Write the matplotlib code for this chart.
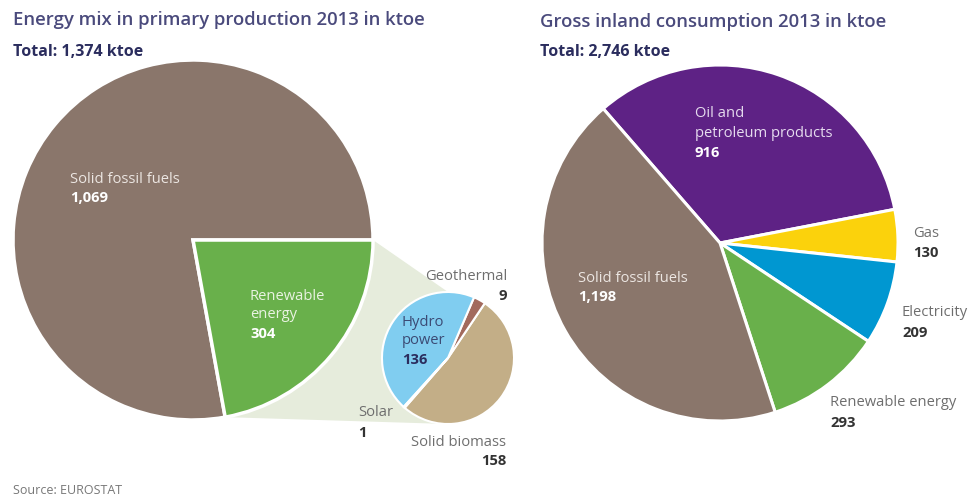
import matplotlib.pyplot as plt
from matplotlib.patches import Polygon
import numpy as np

# Primary production 2013 (ktoe)
prod_labels = ['Solid fossil fuels', 'Renewable energy']
prod_values = [1069, 304]
prod_total = 1374

# Breakdown of renewable energy production (ktoe)
ren_labels = ['Solid biomass', 'Geothermal', 'Hydro power', 'Solar']
ren_values = [158, 9, 136, 1]

# Gross inland consumption 2013 (ktoe)
cons_labels = ['Oil and petroleum products', 'Gas', 'Electricity',
               'Renewable energy', 'Solid fossil fuels']
cons_values = [916, 130, 209, 293, 1198]
cons_total = 2746

W, H = 970, 503
plt.rcParams['font.family'] = ['Open Sans', 'DejaVu Sans']

BROWN = '#8a766b'
GREEN = '#69b04b'
PURPLE = '#5e2285'
YELLOW = '#fbd20c'
BLUE = '#0097d1'
LIGHTBLUE = '#80cdf0'
TAN = '#c3ae87'
GEO = '#a26a5d'
SOLAR = '#f3a328'
PALEGREEN = '#e6ecdc'
TITLE = '#4a4a7c'
NAVY = '#2b2d5e'
GREY = '#6e6e6e'
DARK = '#333333'

fig = plt.figure(figsize=(W / 100, H / 100), dpi=100)
ax = fig.add_axes([0, 0, 1, 1])


def py(y):
    # pixel row (from top) -> data y
    return H - y


# --- left: primary production ---
big_c = (193, py(240))
big_r = 180
big_w, _ = ax.pie(prod_values, colors=[BROWN, GREEN], startangle=0,
                  counterclock=True, explode=[0, 0.045], radius=big_r,
                  center=big_c, frame=True,
                  wedgeprops=dict(edgecolor='white', linewidth=2.5))

small_c = (448, py(358))
small_r = 66
small_w, _ = ax.pie(ren_values, colors=[TAN, GEO, LIGHTBLUE, SOLAR],
                    startangle=-131, counterclock=True,
                    explode=[0.025, 0.06, 0.035, 0.05], radius=small_r,
                    center=small_c, frame=True,
                    wedgeprops=dict(edgecolor='white', linewidth=1.5))

# pale band linking the renewable slice to its breakdown
gw = big_w[1]
gc = np.array(gw.center)
a1, a2 = np.radians(gw.theta1), np.radians(gw.theta2)
top_pt = gc + gw.r * np.array([np.cos(a2), np.sin(a2)])
bot_pt = gc + gw.r * np.array([np.cos(a1), np.sin(a1)])
link = Polygon([gc, top_pt, (small_c[0], small_c[1] + small_r),
                (small_c[0], small_c[1] - small_r), bot_pt],
               closed=True, facecolor=PALEGREEN, edgecolor='none', zorder=0.5)
ax.add_patch(link)

# --- right: gross inland consumption ---
cons_c = (720, py(243))
cons_r = 178
ax.pie(cons_values, colors=[PURPLE, YELLOW, BLUE, GREEN, BROWN],
       startangle=131, counterclock=False, radius=cons_r, center=cons_c,
       explode=[0, 0.012, 0.012, 0.012, 0],
       frame=True, wedgeprops=dict(edgecolor='white', linewidth=2.2))

ax.set_xlim(0, W)
ax.set_ylim(0, H)
ax.set_aspect('auto')
ax.axis('off')

# titles
ax.text(13, py(20), 'Energy mix in primary production 2013 in ktoe',
        fontsize=13.3, fontweight='semibold', color=TITLE, va='center',
        ha='left')
ax.text(13, py(52), f'Total: {prod_total:,} ktoe', fontsize=11.5,
        fontweight='bold', color=NAVY, va='center', ha='left')
ax.text(540, py(22), 'Gross inland consumption 2013 in ktoe',
        fontsize=13.3, fontweight='semibold', color=TITLE, va='center',
        ha='left')
ax.text(540, py(52), f'Total: {cons_total:,} ktoe', fontsize=11.5,
        fontweight='bold', color=NAVY, va='center', ha='left')


def lab(x, y, name, value, color, vcolor, ha='left', gap=19, size=10.6):
    lines = name.split('\n')
    for i, ln in enumerate(lines):
        ax.text(x, py(y + i * gap), ln, fontsize=size, color=color,
                ha=ha, va='center')
    ax.text(x, py(y + len(lines) * gap), f'{value:,}', fontsize=size,
            fontweight='bold', color=vcolor, ha=ha, va='center')


INSIDE = '#ece6e2'
lab(70, 179, 'Solid fossil fuels', prod_values[0], INSIDE, 'white')
lab(250, 296, 'Renewable\nenergy', prod_values[1], '#e9f3e2', 'white')
lab(402, 322, 'Hydro\npower', ren_values[2], '#3b4a74', NAVY, gap=19)
lab(507, 277, 'Geothermal', ren_values[1], GREY, DARK, ha='right')
lab(358, 413, 'Solar', ren_values[3], GREY, DARK, ha='left', gap=20)
lab(506, 442, 'Solid biomass', ren_values[0], GREY, DARK, ha='right')

lab(695, 113, 'Oil and\npetroleum products', cons_values[0], '#e6dcef',
    'white', gap=20)
lab(913, 233, 'Gas', cons_values[1], GREY, DARK, gap=20)
lab(902, 313, 'Electricity', cons_values[2], GREY, DARK, gap=20)
lab(830, 403, 'Renewable energy', cons_values[3], GREY, DARK, gap=20)
lab(578, 278, 'Solid fossil fuels', cons_values[4], INSIDE, 'white')

ax.text(13, py(490), 'Source: EUROSTAT', fontsize=9, color='#777777',
        ha='left', va='center')

fig.savefig('out.png', dpi=100)
